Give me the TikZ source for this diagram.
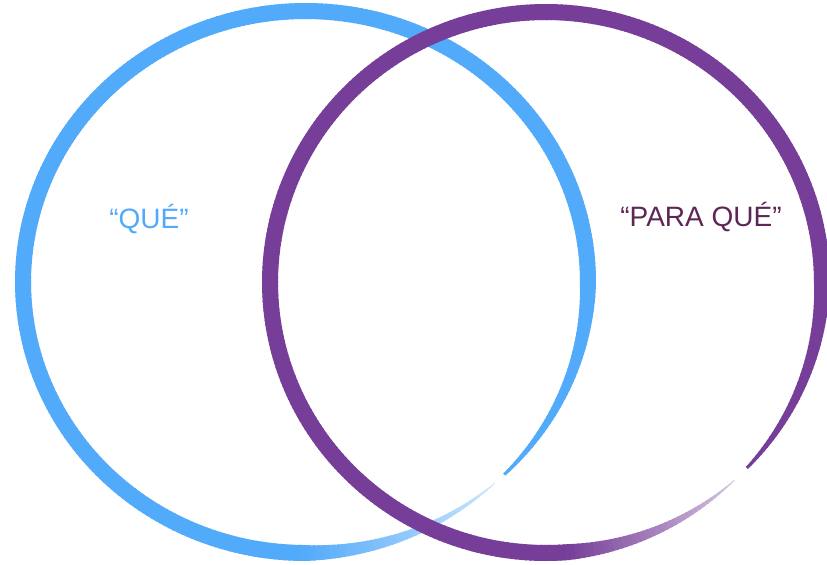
\documentclass[tikz,border=0pt]{standalone}
\usepackage{fontspec}
\setmainfont{Liberation Sans}
\definecolor{qblue}{RGB}{82,170,250}
\definecolor{qpurple}{RGB}{118,62,152}
\definecolor{qtext}{RGB}{94,38,86}
% #1 cx, #2 cy, #3 rx, #4 ry, #5 start angle, #6 span, #7 colour, #8 fade span
\newcommand\brushring[8]{%
  \foreach \u in {0,1,...,#6}{%
    \pgfmathsetmacro\ta{#5-\u}%
    \pgfmathsetmacro\tb{#5-\u-1.3}%
    \pgfmathsetmacro\w{min(16,1+(15/#8)*\u,16-(13/(#6-312))*(\u-312))}%
    \pgfmathsetmacro\lw{\w*0.75}%
    \pgfmathtruncatemacro\m{min(100,30+(70/#8)*\u)}%
    \pgfmathsetmacro\xa{#1+#3*cos(\ta)}%
    \pgfmathsetmacro\ya{#2-#4*sin(\ta)}%
    \pgfmathsetmacro\xb{#1+#3*cos(\tb)}%
    \pgfmathsetmacro\yb{#2-#4*sin(\tb)}%
    \draw[line width=\lw pt, #7!\m!white] (\xa,\ya) -- (\xb,\yb);
  }%
}
\begin{document}
\begin{tikzpicture}[x=0.75pt,y=-0.75pt]
\useasboundingbox (0,0) rectangle (827,564);
\fill[white] (0,0) rectangle (827,564);
\tikzset{label text/.style={font=\fontsize{21}{25}\selectfont, inner sep=0pt}}
% blue ring
\brushring{305.5}{282}{282.5}{271}{-48}{356}{qblue}{42}
% purple ring
\brushring{546}{282.5}{276}{270.5}{-47}{355}{qpurple}{38}
\node[label text, text=qblue] (que) at (149,219) {“QUÉ”};
\node[label text, text=qtext] (paraque) at (701,217) {“PARA QUÉ”};
\end{tikzpicture}
\end{document}
